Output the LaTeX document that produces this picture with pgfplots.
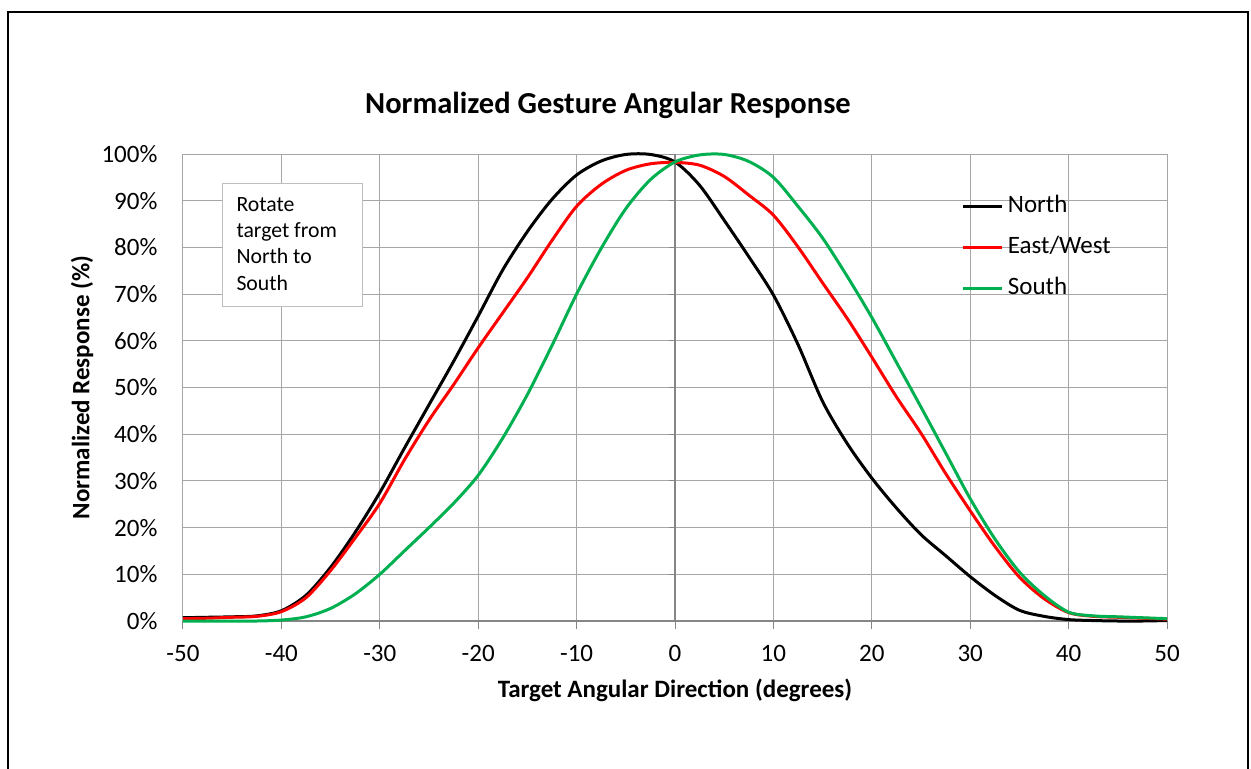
\documentclass[border=0pt]{standalone}
\usepackage{fontspec}
\setmainfont{Carlito}
\usepackage{pgfplots}
\pgfplotsset{compat=1.18}
\usepackage{pgfplotstable}

\definecolor{gridc}{RGB}{166,166,166}
\definecolor{axisc}{RGB}{134,134,134}
\definecolor{boxc}{RGB}{191,191,191}
\definecolor{exred}{RGB}{255,0,0}
\definecolor{exgreen}{RGB}{0,176,80}

\pgfplotstableread{
x N E S
-50 0.7 0.5 0.0
-47.5 0.8 0.6 0.0
-45 0.9 0.8 0.0
-42.5 1.1 1.0 0.0
-40 2.2 2.0 0.2
-37.5 5.5 5.0 0.9
-35 11.5 10.8 2.7
-32.5 19.0 17.8 5.8
-30 27.5 25.2 10.0
-27.5 37.0 34.5 15.0
-25 46.3 43.0 20.0
-22.5 55.6 50.6 25.2
-20 65.3 58.5 31.2
-17.5 75.2 66.0 39.2
-15 83.4 73.5 48.5
-12.5 90.3 81.5 59.0
-10 95.5 88.8 70.0
-7.5 98.5 93.5 79.8
-5 99.9 96.5 88.3
-2.5 99.9 97.9 94.5
0 98.3 98.2 98.3
2.5 93.3 97.6 99.8
5 85.8 95.2 99.9
7.5 78.0 91.2 98.4
10 69.8 86.9 95.0
12.5 59.2 80.1 88.8
15 47.0 72.4 82.0
17.5 38.0 64.8 73.8
20 30.6 56.5 65.0
22.5 24.2 48.0 55.4
25 18.5 40.2 45.8
27.5 14.0 31.6 36.0
30 9.5 23.6 26.2
32.5 5.5 16.0 17.6
35 2.3 9.4 10.5
37.5 1.0 4.8 5.5
40 0.3 1.8 1.9
42.5 0.1 1.0 1.1
45 0.0 0.8 0.9
47.5 0.0 0.6 0.7
50 0.1 0.4 0.5
}\data

\begin{document}
\begin{tikzpicture}
\useasboundingbox (0,0) rectangle (500.4pt,-307.6pt);
\draw[line width=0.8pt] (3.2pt,-307.6pt) -- (3.2pt,-4.8pt) -- (499.2pt,-4.8pt) -- (499.2pt,-307.6pt);
\begin{axis}[
  at={(73.2pt,-248.4pt)}, anchor=south west,
  scale only axis, width=393.6pt, height=186.8pt,
  xmin=-50, xmax=50, ymin=0, ymax=100,
  xtick={-50,-40,...,50}, ytick={0,10,...,100},
  major tick length=0pt,
  grid=major, grid style={gridc, line width=0.4pt},
  axis line style={gridc, line width=0.4pt},
  yticklabel={\pgfmathprintnumber{\tick}\%},
  /pgf/number format/assume math mode=true,
  tick label style={font=\fontsize{10}{12}\selectfont},
  xticklabel style={yshift=-6.3pt},
  yticklabel style={xshift=-6.7pt},
  title={Normalized Gesture Angular Response},
  every axis title shift=0pt,
  title style={font=\bfseries\fontsize{12.2}{14}\selectfont, at={(rel axis cs:0.4319,1.105)}, anchor=center},
  xlabel={Target Angular Direction (degrees)},
  xlabel style={font=\bfseries\fontsize{10}{12}\selectfont, at={(rel axis cs:0.5,-0.148)}, anchor=center},
  ylabel={Normalized Response (\%)},
  ylabel style={font=\bfseries\fontsize{10}{12}\selectfont, at={(rel axis cs:-0.1026,0.5)}, anchor=center},
  clip=false,
  legend cell align=left,
  legend image code/.code={\draw[#1] (0pt,0pt) -- (15.6pt,0pt);},
  legend style={at={(axis cs:29.1,91.27)}, anchor=north west, draw=none, fill=none,
    inner sep=0pt, row sep=7.4pt, column sep=1.6pt, font=\fontsize{10}{12}\selectfont,
    nodes={text height=7pt, text depth=2pt, inner sep=0pt}},
]
\draw[axisc, line width=0.8pt] (axis cs:-50,0) -- (axis cs:50,0);
\draw[axisc, line width=0.8pt] (axis cs:0,0) -- (axis cs:0,100);
\pgfplotsinvokeforeach{-50,-40,...,50}{\draw[axisc, line width=0.4pt] (axis cs:#1,0) -- ++(0pt,-3.2pt);}
\pgfplotsinvokeforeach{0,10,...,100}{\draw[axisc, line width=0.4pt] (axis cs:0,#1) -- ++(-2.6pt,0pt);}
\addplot[black, line width=1.2pt, smooth] table[x=x, y=N] {\data};
\addlegendentry{North}
\addplot[exred, line width=1.2pt, smooth] table[x=x, y=E] {\data};
\addlegendentry{East/West}
\addplot[exgreen, line width=1.2pt, smooth] table[x=x, y=S] {\data};
\addlegendentry{South}
\end{axis}
\draw[boxc, fill=white, line width=0.4pt] (88.8pt,-73.2pt) rectangle (144.8pt,-122.4pt);
\begin{scope}[every node/.style={anchor=base west, inner sep=0pt, font=\fontsize{8.7}{10.6}\selectfont}]
\node at (94.4pt,-84.4pt) {Rotate};
\node at (94.4pt,-94.9pt) {target from};
\node at (94.4pt,-105.4pt) {North to};
\node at (94.4pt,-116.0pt) {South};
\end{scope}
\end{tikzpicture}
\end{document}
